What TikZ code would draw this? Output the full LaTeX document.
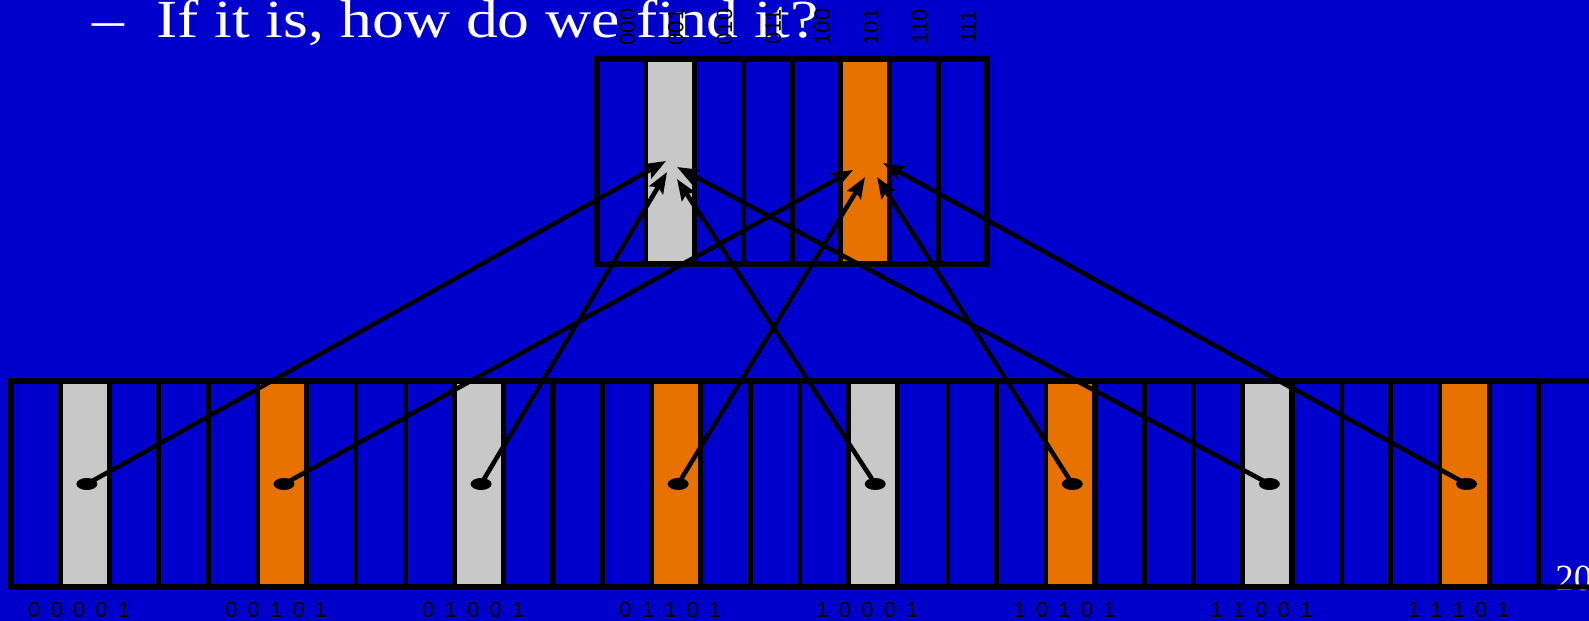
\documentclass[tikz,border=0pt]{standalone}
\usepackage{fontspec}
\setmainfont{Liberation Serif}
\setsansfont{Liberation Sans}
\usepackage{graphicx}
\usepackage{tikz}
\usetikzlibrary{arrows.meta, shapes.geometric}
\definecolor{SlideBlue}{RGB}{0,0,204}
\definecolor{CellGray}{RGB}{200,200,200}
\definecolor{CellOrange}{RGB}{232,114,0}
\def\cw{49.27}
\def\tw{48.75}
\newcommand{\widebits}[1]{{\spaceskip=5.8pt\relax #1}}
\tikzset{
  slot/.style={draw=black, line width=2.9pt, outer sep=0pt, minimum width=0.975cm, minimum height=4.1cm, inner sep=0pt},
  blk/.style={draw=black, line width=2.9pt, outer sep=0pt, minimum width=0.9854cm, minimum height=4.12cm, inner sep=0pt},
  nohit/.style={},
  hitgray/.style={fill=CellGray},
  hitorange/.style={fill=CellOrange},
  gridline/.style={line width=2.9pt, black},
  hashdot/.style={ellipse, fill=black, minimum width=0.42cm, minimum height=0.24cm, inner sep=0pt},
  linkarrow/.style={-{Stealth[length=12pt, width=9pt, inset=2pt]}, line width=2.6pt, black},
  slotlab/.style={rotate=90, font=\sffamily\fontsize{12.5}{14}\selectfont, inner sep=0pt},
  bitlab/.style={font=\sffamily\fontsize{12.5}{14}\selectfont, inner sep=0pt},
  slidetxt/.style={anchor=base west, inner sep=0pt, text=white},
}
\begin{document}
\begin{tikzpicture}[x=0.02cm, y=-0.02cm]
  \fill[SlideBlue] (0,0) rectangle (1589,621);
  \useasboundingbox (0,0) rectangle (1589,621);
  \clip (0,0) rectangle (1589,621);
  % slide text
  \node[slidetxt, font=\fontsize{30.5}{36}\selectfont] (title) at (92,38)
    {\scalebox{1.19}[1]{–\hspace{0.5em}If it is, how do we find it?}};
  \node[slidetxt, font=\fontsize{21}{24}\selectfont] (pageno) at (1555,590) {20};
  % hash table with its slot numbers
  \foreach \i/\sty in {0/nohit,1/hitgray,2/nohit,3/nohit,4/nohit,5/hitorange,6/nohit,7/nohit}
    \node[slot, \sty] (t\i) at (597+\tw*\i+\tw/2, 161.5) {};
  \foreach \i/\txt in {0/000,1/001,2/010,3/011,4/100,5/101,6/110,7/111}
    \node[slotlab] (l\i) at (627+\tw*\i, 27) {\txt};
  % key space below
  \foreach \k in {0,...,30}{
    \pgfmathtruncatemacro{\m}{mod(\k,8)}
    \ifnum\m=1 \def\sty{hitgray}\else\ifnum\m=5 \def\sty{hitorange}\else\def\sty{nohit}\fi\fi
    \node[blk, \sty] (b\k) at (11+\cw*\k+\cw/2, 484) {};
  }
  \coordinate (farT) at (1600,381);
  \coordinate (farB) at (1600,587);
  \draw[gridline] (b30.north east) -- (farT);
  \draw[gridline] (b30.south east) -- (farB);
  \foreach \j/\bits in {0/0 0 0 0 1,1/0 0 1 0 1,2/0 1 0 0 1,3/0 1 1 0 1,4/1 0 0 0 1,5/1 0 1 0 1,6/1 1 0 0 1,7/1 1 1 0 1}
    \node[bitlab] (n\j) at (11+\cw*4*\j+\cw*1.5-6, 610) {\widebits{\bits}};
  % where each key lands
  \coordinate (g0) at (666,161);
  \coordinate (g1) at (667,172);
  \coordinate (g2) at (677,179);
  \coordinate (g3) at (677,167);
  \coordinate (o0) at (853,170);
  \coordinate (o1) at (865,177);
  \coordinate (o2) at (877,177);
  \coordinate (o3) at (883,163);
  \foreach \j in {0,...,7}
    \node[hashdot] (d\j) at (11+\cw*4*\j+\cw*1.5+2, 484) {};
  \foreach \j/\tip in {0/g0,1/o0,2/g1,3/o1,4/g2,5/o2,6/g3,7/o3}
    \draw[linkarrow] (d\j.center) -- (\tip);
\end{tikzpicture}
\end{document}
